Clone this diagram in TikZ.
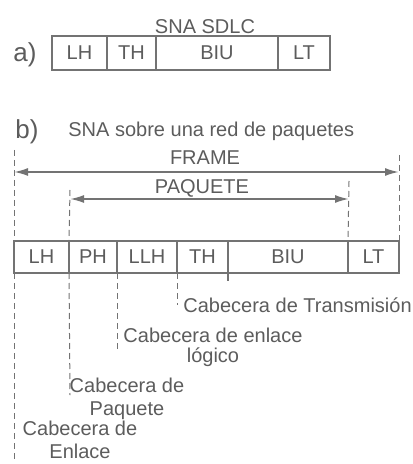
\documentclass[tikz,border=0pt]{standalone}
\usepackage{fontspec}
\setmainfont{Liberation Sans}
\usetikzlibrary{positioning, arrows.meta}

\definecolor{ink}{gray}{0.36}
\definecolor{edge}{gray}{0.45}

\begin{document}
\begin{tikzpicture}[
    x=0.5pt, y=-0.5pt, % one unit = one pixel of the scan
    >={Latex[length=7pt, width=4pt]},
    % Styles
    txt/.style={ % Plain text
        text=ink,
        inner sep=0pt
    },
    tag/.style={ % Part letters
        txt,
        font=\fontsize{13}{15}\selectfont
    },
    field/.style={ % One field of a frame
        rectangle,
        draw=edge,
        line width=0.8pt,
        minimum height=17pt,
        inner sep=0pt,
        outer sep=0pt,
        text=ink
    },
    guide/.style={ % Dashed guide lines
        draw=edge,
        line width=0.5pt,
        dash pattern=on 3pt off 2pt
    },
    span/.style={ % Length arrows
        <->,
        draw=edge,
        line width=0.9pt
    }
]
    \useasboundingbox (0,0) rectangle (412,464);

    % a) SNA over SDLC
    \node[tag, anchor=base] (a) at (25,62) {a)};
    \node[txt, anchor=base] (sdlc) at (205,34) {SNA SDLC};
    \node[field, minimum width=27.5pt, anchor=west] (aLH) at (52,53) {LH};
    \node[field, minimum width=24.5pt, right=0pt of aLH] (aTH) {TH};
    \node[field, minimum width=61pt, right=0pt of aTH] (aBIU) {BIU};
    \node[field, minimum width=26pt, right=0pt of aBIU] (aLT) {LT};

    % b) SNA over a packet network
    \node[tag, anchor=base] (b) at (27,139) {b)};
    \node[txt, anchor=base west] (title) at (68,137) {SNA sobre una red de paquetes};
    \node[field, minimum width=27.5pt, minimum height=16pt, anchor=west] (bLH) at (14,257) {LH};
    \node[field, minimum width=24pt, minimum height=16pt, right=0pt of bLH] (bPH) {PH};
    \node[field, minimum width=30pt, minimum height=16pt, right=0pt of bPH] (bLLH) {LLH};
    \node[field, minimum width=25.5pt, minimum height=16pt, right=0pt of bLLH] (bTH) {TH};
    \node[field, minimum width=60pt, minimum height=16pt, right=0pt of bTH] (bBIU) {BIU};
    \node[field, minimum width=25.5pt, minimum height=16pt, right=0pt of bBIU] (bLT) {LT};
    \draw[draw=edge, line width=0.8pt] (bBIU.south west) -- ++(0,8);

    % Guide line ends
    \coordinate (frameTop) at (14,150);
    \coordinate (frameEnd) at (14,460);
    \coordinate (frameTopR) at (399,155);
    \coordinate (paqTop) at (70,190);
    \coordinate (paqEnd) at (70,395);
    \coordinate (paqTopR) at (349,181);
    \coordinate (llhEnd) at (117,350);
    \coordinate (thEnd) at (177,305);

    % Guide lines
    \draw[guide] (frameTop) -- (bLH.north west);
    \draw[guide] (bLH.south west) -- (frameEnd);
    \draw[guide] (frameTopR) -- (bLT.north east);
    \draw[guide] (paqTop) -- (bPH.north west);
    \draw[guide] (bPH.south west) -- (paqEnd);
    \draw[guide] (paqTopR) -- (bLT.north west);
    \draw[guide] (bLLH.south west) -- (llhEnd);
    \draw[guide] (bTH.south west) -- (thEnd);

    % Length arrows
    \coordinate (frameA) at (14,172);
    \coordinate (frameB) at (399,172);
    \coordinate (paqA) at (70,199);
    \coordinate (paqB) at (349,199);
    \draw[span] (frameA) -- (frameB);
    \draw[span] (paqA) -- (paqB);
    \node[txt, anchor=base] (frame) at (205,165) {FRAME};
    \node[txt, anchor=base] (paquete) at (202,194) {PAQUETE};

    % Header names
    \node[txt, anchor=base west] (trans) at (183,312) {Cabecera de Transmisión};
    \node[txt, anchor=north, align=center] (llc) at (213,328) {Cabecera de enlace\\[-2pt]lógico};
    \node[txt, anchor=north, align=center] (pkt) at (127,378) {Cabecera de\\[-0.5pt]Paquete};
    \node[txt, anchor=north, align=center] (lnk) at (80,421) {Cabecera de\\[-0.5pt]Enlace};
\end{tikzpicture}
\end{document}
